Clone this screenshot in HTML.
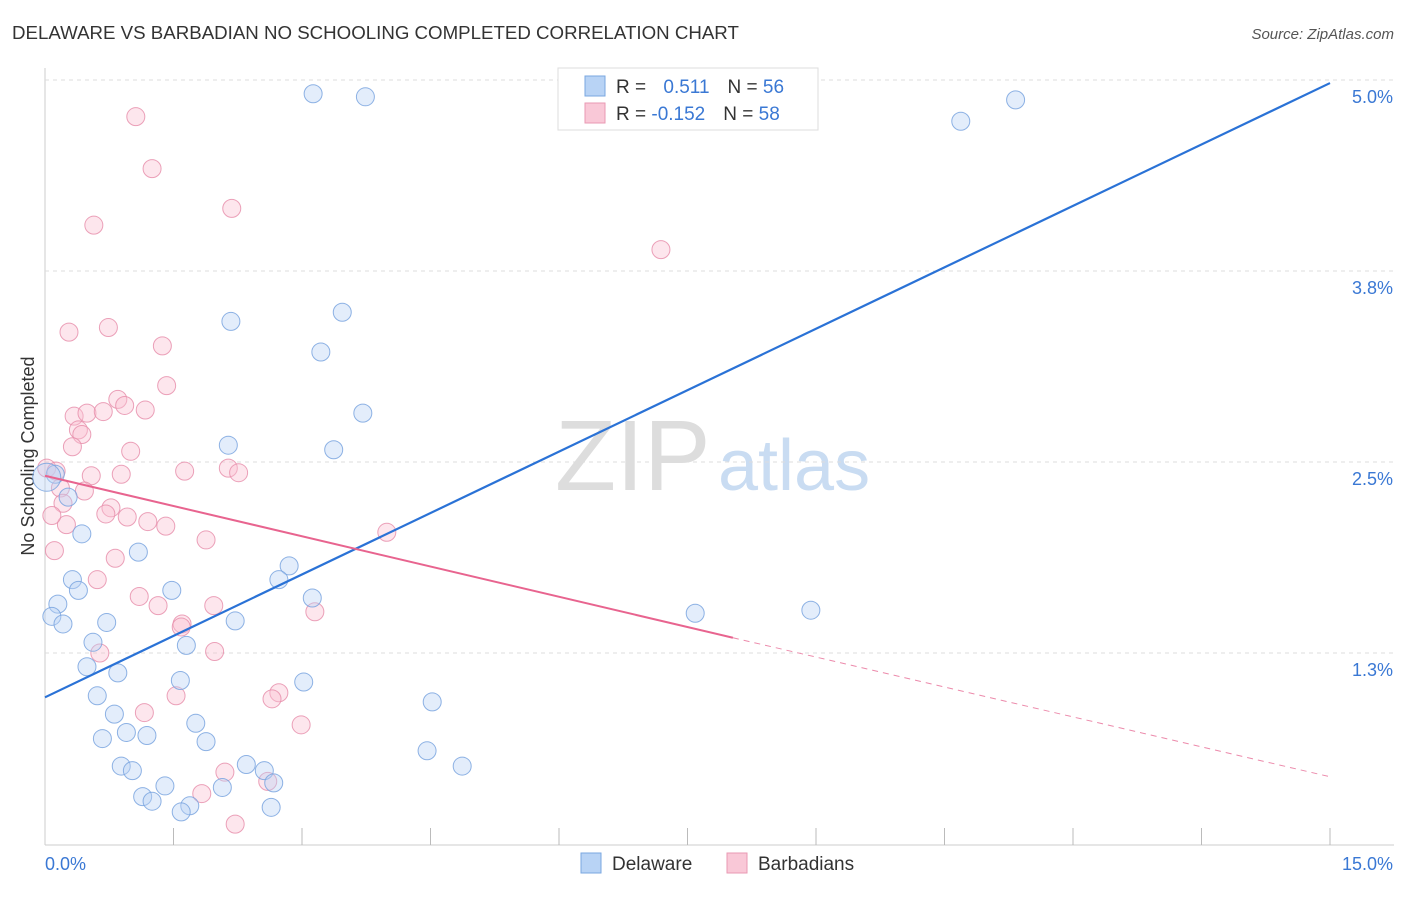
<!DOCTYPE html>
<html><head><meta charset="utf-8"><style>
body{margin:0;background:#fff;font-family:"Liberation Sans",sans-serif;}
svg text{font-family:"Liberation Sans",sans-serif;}
</style></head><body>
<svg width="1406" height="892" id="c">
<text x="12" y="39" font-size="18.7" fill="#333">DELAWARE VS BARBADIAN NO SCHOOLING COMPLETED CORRELATION CHART</text>
<text x="1394" y="39" font-size="15" fill="#555" font-style="italic" text-anchor="end">Source: ZipAtlas.com</text>
<text x="34" y="456" font-size="18" fill="#333" transform="rotate(-90 34 456)" text-anchor="middle">No Schooling Completed</text>
<text x="555" y="490" font-size="100" fill="#ddd" font-family="Liberation Serif">ZIP</text>
<text x="718" y="490" font-size="72" fill="#c9dcf2">atlas</text>
<g id="grid"></g><g id="marks"></g>
<g>
<rect x="558" y="68" width="260" height="62" fill="#fff" stroke="#ddd"/>
<rect x="585" y="76" width="20" height="20" fill="#b8d3f5" stroke="#7aa7e0"/>
<rect x="585" y="103" width="20" height="20" fill="#f9c8d7" stroke="#e999b3"/>
<text x="616" y="93" font-size="19" fill="#333">R = <tspan fill="#3a78d4" dx="12">0.511</tspan><tspan dx="18" fill="#333">N = </tspan><tspan fill="#3a78d4">56</tspan></text>
<text x="616" y="120" font-size="19" fill="#333">R = <tspan fill="#3a78d4">-0.152</tspan><tspan dx="18" fill="#333">N = </tspan><tspan fill="#3a78d4">58</tspan></text>
</g>
<g>
<rect x="581" y="853" width="20" height="20" fill="#b8d3f5" stroke="#7aa7e0"/>
<text x="612" y="870" font-size="19" fill="#333">Delaware</text>
<rect x="727" y="853" width="20" height="20" fill="#f9c8d7" stroke="#e999b3"/>
<text x="758" y="870" font-size="19" fill="#333">Barbadians</text>
</g>
</svg>
<script>
const yTicks=[5.0,3.75,2.5,1.25];
const yTickLabels=["5.0%","3.8%","2.5%","1.3%"];
const xTickLabels=["0.0%","15.0%"];
const blueX=[3.13,3.74,10.69,11.33,2.17,3.47,3.22,3.71,2.14,3.37,0.12,0.27,0.43,1.09,2.85,2.73,0.32,0.39,1.48,3.12,0.15,0.08,0.21,0.72,2.22,7.59,8.94,0.56,1.65,0.49,0.85,1.58,3.02,0.61,4.52,0.81,1.76,0.67,0.95,1.19,1.88,4.46,0.89,1.02,2.35,2.56,4.87,2.67,1.40,2.07,1.14,1.25,1.69,1.59,2.64,0.02];
const blueY=[4.91,4.89,4.73,4.87,3.42,3.48,3.22,2.82,2.61,2.58,2.42,2.27,2.03,1.91,1.82,1.73,1.73,1.66,1.66,1.61,1.57,1.49,1.44,1.45,1.46,1.51,1.53,1.32,1.30,1.16,1.12,1.07,1.06,0.97,0.93,0.85,0.79,0.69,0.73,0.71,0.67,0.61,0.51,0.48,0.52,0.48,0.51,0.40,0.38,0.37,0.31,0.28,0.25,0.21,0.24,2.40];
const pinkX=[1.06,1.25,0.57,2.18,7.19,0.28,0.74,1.37,1.42,0.85,0.93,0.34,0.49,0.68,1.17,0.39,0.43,0.32,1.00,0.02,0.13,0.54,0.89,1.63,2.14,2.26,0.18,0.46,0.21,0.77,0.71,0.96,1.20,1.41,0.25,3.99,1.88,0.08,0.11,0.82,0.61,1.10,1.32,1.97,1.60,1.59,3.15,0.64,1.98,1.53,2.73,2.65,1.16,2.99,2.10,2.60,1.83,2.22];
const pinkY=[4.76,4.42,4.05,4.16,3.89,3.35,3.38,3.26,3.00,2.91,2.87,2.80,2.82,2.83,2.84,2.71,2.68,2.60,2.57,2.46,2.44,2.41,2.42,2.44,2.46,2.43,2.33,2.31,2.23,2.20,2.16,2.14,2.11,2.08,2.09,2.04,1.99,2.15,1.92,1.87,1.73,1.62,1.56,1.56,1.44,1.42,1.52,1.25,1.26,0.97,0.99,0.95,0.86,0.78,0.47,0.41,0.33,0.13];
const blueLine=[[0,0.96],[15,4.98]];
const pinkLine=[[0,2.41],[8.03,1.35]];
const pinkDash=[[8.03,1.35],[15,0.44]];
const X0=45,X1=1330,Y0=844,YS=152.8;
const sx=v=>X0+(v/15)*(X1-X0), sy=v=>Y0-v*YS;
const NS="http://www.w3.org/2000/svg";
const grid=document.getElementById('grid'), marks=document.getElementById('marks');
function mk(t,a,p){const e=document.createElementNS(NS,t);for(const k in a)e.setAttribute(k,a[k]);p.appendChild(e);return e;}
mk('line',{x1:45,y1:68,x2:45,y2:845,stroke:'#ccc'},grid);
mk('line',{x1:45,y1:845,x2:1394,y2:845,stroke:'#ccc'},grid);
yTicks.forEach((v,i)=>{
 const g=mk('line',{x1:45,y1:sy(v),x2:1394,y2:sy(v),stroke:'#ddd','stroke-dasharray':'4,4'},grid);
 
 
 const t=mk('text',{x:1393,y:sy(v)+23,'font-size':18,fill:'#3a78d4','text-anchor':'end'},grid);t.textContent=yTickLabels[i];
 
 
});
for(let i=1;i<=10;i++){const x=X0+i*128.5;const l=mk('line',{x1:x,y1:828,x2:x,y2:845,stroke:'#bbb'},grid);
 
 }
[[0,'start'],[15,'end']].forEach((d,i)=>{const t=mk('text',{x:i?1393:45,y:870,'font-size':18,fill:'#3a78d4','text-anchor':d[1]},grid);t.textContent=xTickLabels[i];
 
 });
function dots(xs,ys,fill,stroke,name){xs.forEach((v,i)=>{const r=(i===xs.length-1&&name==='delaware-point')?14:9;
 const c=mk('circle',{cx:sx(v),cy:sy(ys[i]),r:r,fill:fill,'fill-opacity':0.4,stroke:stroke,'stroke-width':1,'stroke-opacity':0.85},marks);
 
 });}
dots(pinkX,pinkY,'#f9c0d2','#e890ad','barbadians-point');
dots(blueX,blueY,'#b8d3f5','#7aa5df','delaware-point');
function ln(p,col,dash,name,w){const l=mk('line',{x1:sx(p[0][0]),y1:sy(p[0][1]),x2:sx(p[1][0]),y2:sy(p[1][1]),stroke:col,'stroke-width':w},marks);
 if(dash)l.setAttribute('stroke-dasharray','6,5');
 
 }
ln(blueLine,'#2a72d6',false,'delaware-trendline',2.2);
ln(pinkLine,'#e8648f',false,'barbadians-trendline',2);
ln(pinkDash,'#ec8aab',true,'barbadians-trendline-extension',1);
</script>
</body></html>
